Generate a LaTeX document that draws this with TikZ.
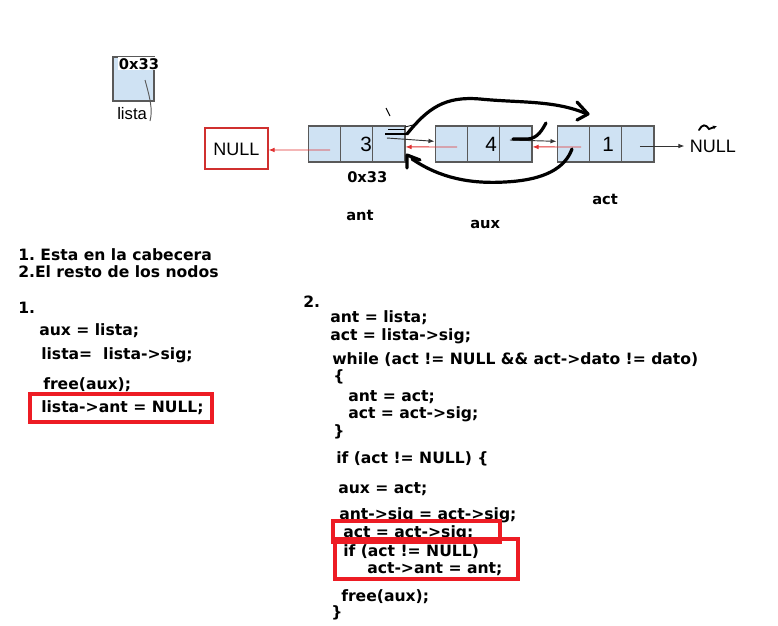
\documentclass[tikz,border=0pt]{standalone}
\usepackage{fontspec}
\setmainfont{Liberation Sans}
\newfontfamily\codefont{DejaVu Sans}
\usetikzlibrary{arrows.meta}
\definecolor{cellblue}{HTML}{CFE2F3}
\definecolor{cellborder}{HTML}{595959}
\definecolor{boxred}{HTML}{ED1C24}
\definecolor{nullred}{HTML}{D0302F}
\definecolor{ptrred}{HTML}{E03030}
\definecolor{ptrblack}{HTML}{333333}
\begin{document}
\frenchspacing
\begin{tikzpicture}[x=0.75pt,y=-0.75pt,
  cell/.style={draw=cellborder, fill=cellblue, line width=0.8pt, minimum width=24.25pt, minimum height=27pt, inner sep=0pt},
  num/.style={inner sep=0pt, font=\fontsize{15.5}{17}\selectfont},
  code/.style={anchor=base west, inner sep=0pt, font=\codefont\bfseries\fontsize{11.7}{13}\selectfont},
  lbl/.style={anchor=base west, inner sep=0pt, font=\codefont\bfseries\fontsize{11}{13}\selectfont},
  nulltxt/.style={inner sep=0pt, font=\fontsize{13.5}{15}\selectfont},
  redbox/.style={draw=boxred, line width=3pt},
  redarr/.style={draw=ptrred, line width=0.7pt, -{Latex[length=4.5pt,width=3.5pt]}},
  blkarr/.style={draw=ptrblack, line width=0.7pt, -{Latex[length=4.5pt,width=3.5pt]}},
  hand/.style={draw=black, line width=2.4pt, line cap=round, line join=round},
]
\useasboundingbox (0,0) rectangle (778,625);

% lista box
\node[cell, minimum width=30.75pt, minimum height=33pt] (lbox) at (133.5,79) {};
\node[lbl, fill=white, inner sep=0.5pt] (lboxaddr) at (118,69) {0x33};
\node[anchor=base west, inner sep=0pt, font=\fontsize{12.5}{14}\selectfont] (lname) at (117,119) {lista};
\draw[cellborder, line width=0.7pt] (145,80) .. controls (150,98) and (153,110) .. (150,121);

% NULL box
\node[draw=nullred, line width=0.8pt, minimum width=47.25pt, minimum height=30.75pt, inner sep=0pt] (null1) at (236.5,148.5) {};
\node[nulltxt] (null1t) at (236.5,149) {NULL};

% list nodes
\node[cell] (n1a) at (324.2,144) {};
\node[cell] (n1b) at (356.5,144) {};
\node[cell] (n1c) at (388.8,144) {};
\node[cell] (n2a) at (451.2,144) {};
\node[cell] (n2b) at (483.5,144) {};
\node[cell] (n2c) at (515.8,144) {};
\node[cell] (n3a) at (573.2,144) {};
\node[cell] (n3b) at (605.5,144) {};
\node[cell] (n3c) at (637.8,144) {};
\node[num] (v1) at (366,144) {3};
\node[num] (v2) at (491,144) {4};
\node[num] (v3) at (608,144) {1};
\node[nulltxt] (null2) at (713,146) {NULL};

% pointers
\draw[redarr] ([shift={(6,6)}]n1a.center) -- ([yshift=-1.1pt]null1.east);
\draw[blkarr] ([shift={(-2,-6)}]n1c.center) -- ([yshift=2pt]n2a.west);
\draw[redarr] ([shift={(6,3)}]n2a.center) -- ([yshift=-2.2pt]n1c.east);
\draw[blkarr] ([shift={(-6,-4)}]n2c.center) -- ([yshift=2pt]n3a.west);
\draw[redarr] ([shift={(8,3)}]n3a.center) -- ([yshift=-2.2pt]n2c.east);
\draw[blkarr] ([shift={(2,2)}]n3c.center) -- ([xshift=-4pt]null2.west);

% hand-drawn marks
\draw[hand] (407,134) .. controls (428,108) and (445,96) .. (480,99) .. controls (520,103) and (555,100) .. (587,114);
\draw[hand] (577,102) -- (588,114) -- (577,120);
\draw[hand] (572,149) .. controls (565,168) and (545,180) .. (505,182) .. controls (470,184) and (440,178) .. (412,159);
\draw[hand] (407,168) -- (407,155) -- (420,160);
\draw[hand] (513,139) -- (528,139) .. controls (538,138) and (542,130) .. (546,123);
\draw[black, line width=2pt] (385,134) -- (407,134);
\draw[black, line width=0.6pt] (388,129) -- (405,129);
\draw[black, line width=0.6pt] (405,127) -- (413,125);
\draw[black, line width=0.8pt] (386,108) -- (390,116);
\draw[black, line width=1.4pt, line cap=round, -{Latex[length=3pt,width=3pt]}] (699,130) .. controls (702,124) and (706,124) .. (709,129) -- (717,126);

% diagram labels
\node[lbl] (addr) at (347,182) {0x33};
\node[lbl] (lant) at (346,220) {ant};
\node[lbl] (laux) at (470,228) {aux};
\node[lbl] (lact) at (592,204) {act};

% text
\node[code] (h1) at (18,260) {1. Esta en la cabecera};
\node[code] (h2) at (18,277) {2.El resto de los nodos};
\node[code] (c1) at (18,313) {1.};
\node[code] (a1) at (39,335) {aux = lista;};
\node[code] (a2) at (41,359) {lista=\ \ lista->sig;};
\node[code] (a3) at (43,389) {free(aux);};
\node[code] (a4) at (41,412) {lista->ant = NULL;};

\node[code] (c2) at (303,307) {2.};
\node[code] (b1) at (330,322) {ant = lista;};
\node[code] (b2) at (330,340) {act = lista->sig;};
\node[code] (b3) at (332,364) {while (act != NULL \&\& act->dato != dato)};
\node[code] (b4) at (333,381) {\{};
\node[code] (b5) at (348,401) {ant = act;};
\node[code] (b6) at (348,418) {act = act->sig;};
\node[code] (b7) at (333,436) {\}};
\node[code] (b8) at (336,463) {if (act != NULL) \{};
\node[code] (b9) at (338,493) {aux = act;};
\node[code] (b10) at (339,519) {ant->sig = act->sig;};
\node[code] (b11) at (343,537) {act = act->sig;};
\node[code] (b12) at (343,556) {if (act != NULL)};
\node[code] (b13) at (367,573) {act->ant = ant;};
\node[code] (b14) at (341,601) {free(aux);};
\node[code] (b15) at (331,617) {\}};

% red boxes
\draw[redbox] (30,394) rectangle (212,422);
\draw[redbox] (333,521) rectangle (500,542);
\draw[redbox] (335,539) rectangle (518,579);
\end{tikzpicture}
\end{document}
